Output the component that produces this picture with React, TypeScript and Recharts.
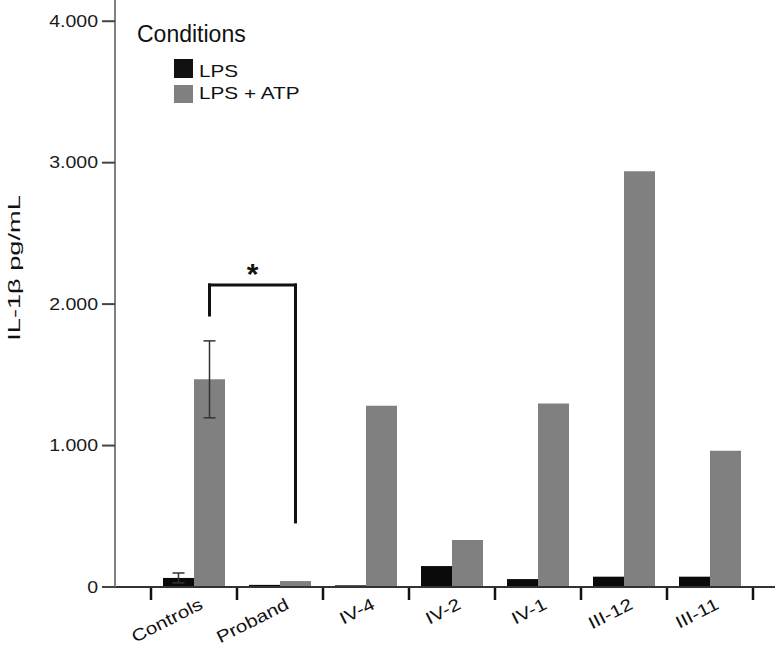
import React from "react";
import {
  BarChart,
  Bar,
  XAxis,
  YAxis,
  Legend,
  ErrorBar,
  ReferenceLine,
  ReferenceDot,
  Label,
} from "recharts";

const FONT = "'Liberation Sans', Arial, sans-serif";

const categories = ["Controls", "Proband", "IV-4", "IV-2", "IV-1", "III-12", "III-11"];
const lpsValues = [64, 15, 12, 148, 56, 73, 73];
const lpsAtpValues = [1468, 42, 1281, 332, 1298, 2940, 963];
const lpsErrors = [35, null, null, null, null, null, null];
const lpsAtpErrors = [272, null, null, null, null, null, null];
const yTicks = [0, 1000, 2000, 3000, 4000];

// significance bracket: Controls vs Proband (LPS + ATP)
const bracketFrom = "Controls";
const bracketTo = "Proband";
const bracketTop = 2135;
const bracketLeftEnd = 1923;
const bracketRightEnd = 460;
const starY = 2140;

// layout
const CHART_W = 781;
const CHART_H = 650;
const MARGIN = { top: 0, right: 6, bottom: 8, left: 0 };
const Y_AXIS_W = 115;
const X_PAD = { left: 36, right: 22 };
const BAR = 31;
const BAND =
  (CHART_W - MARGIN.left - MARGIN.right - Y_AXIS_W - X_PAD.left - X_PAD.right) /
  categories.length;

const data = categories.map((name, i) => ({
  name,
  lps: lpsValues[i],
  lpsAtp: lpsAtpValues[i],
  lpsErr: lpsErrors[i],
  lpsAtpErr: lpsAtpErrors[i],
}));

function formatThousands(v: number): string {
  return String(v).replace(/\B(?=(\d{3})+(?!\d))/g, ".");
}

function YTick({ x, y, payload }: any) {
  return (
    <g transform={`translate(${x},${y})`}>
      <text
        transform="scale(1.22,1)"
        textAnchor="end"
        dy="0.36em"
        fontSize={16}
        fill="#1a1a1a"
        fontFamily={FONT}
      >
        {formatThousands(payload.value)}
      </text>
    </g>
  );
}

// category label plus tick marks on the group boundaries
function XTick({ x, y, payload, index }: any) {
  const left = x - BAND / 2;
  const right = x + BAND / 2;
  return (
    <g>
      <line x1={left} y1={y + 1} x2={left} y2={y + 13} stroke="#111" strokeWidth={2.5} />
      {index === categories.length - 1 && (
        <line x1={right} y1={y + 1} x2={right} y2={y + 13} stroke="#111" strokeWidth={2.5} />
      )}
      <g transform={`translate(${x + 10},${y + 21}) rotate(-27)`}>
        <text
          transform="scale(1.22,1)"
          textAnchor="end"
          fontSize={17}
          fill="#111"
          fontFamily={FONT}
        >
          {payload.value}
        </text>
      </g>
    </g>
  );
}

function YLabel() {
  return (
    <text
      transform="translate(20,268) rotate(-90) scale(1.6,1)"
      textAnchor="middle"
      fontSize={17}
      fill="#111"
      fontFamily={FONT}
    >
      IL-1β pg/mL
    </text>
  );
}

// bracket legs sit on the centre of the LPS + ATP bar
function BracketLine({ x1, y1, x2, y2 }: any) {
  return (
    <line
      x1={x1 + BAR / 2}
      y1={y1}
      x2={x2 + BAR / 2}
      y2={y2}
      stroke="#111"
      strokeWidth={3}
      strokeLinecap="square"
    />
  );
}

function Star({ cx, cy }: any) {
  return (
    <text
      x={cx - BAND / 2 + BAR / 2}
      y={cy}
      textAnchor="middle"
      fontSize={30}
      fontWeight="bold"
      fill="#111"
      fontFamily={FONT}
    >
      *
    </text>
  );
}

function ConditionsLegend() {
  const text: React.CSSProperties = {
    position: "absolute",
    left: 199,
    fontSize: 17,
    lineHeight: "20px",
    whiteSpace: "nowrap",
    transform: "scaleX(1.22)",
    transformOrigin: "left",
  };
  return (
    <div style={{ position: "relative", width: 781, height: 120, fontFamily: FONT, color: "#111" }}>
      <div style={{ position: "absolute", left: 137, top: 20, fontSize: 23, lineHeight: "28px" }}>
        Conditions
      </div>
      <div style={{ position: "absolute", left: 174, top: 59, width: 19, height: 19, background: "#111" }} />
      <div style={{ ...text, top: 62 }}>LPS</div>
      <div style={{ position: "absolute", left: 174, top: 85, width: 19, height: 18, background: "#808080" }} />
      <div style={{ ...text, top: 84 }}>LPS + ATP</div>
    </div>
  );
}

export default function App() {
  return (
    <div style={{ position: "absolute", left: 0, top: 0, background: "#fff" }}>
      <BarChart
        width={CHART_W}
        height={CHART_H}
        data={data}
        margin={MARGIN}
        barSize={BAR}
        barGap={0}
      >
        <XAxis
          dataKey="name"
          padding={X_PAD}
          height={55}
          interval={0}
          axisLine={{ stroke: "#333", strokeWidth: 2 }}
          tickLine={false}
          tickSize={0}
          tickMargin={0}
          tick={<XTick />}
        />
        <YAxis
          width={Y_AXIS_W}
          domain={[0, 4150]}
          ticks={yTicks}
          tickSize={13}
          tickMargin={4}
          axisLine={{ stroke: "#808080", strokeWidth: 2 }}
          tickLine={{ stroke: "#444", strokeWidth: 2 }}
          tick={<YTick />}
        >
          <Label content={<YLabel />} />
        </YAxis>
        <Legend
          layout="vertical"
          align="center"
          verticalAlign="middle"
          wrapperStyle={{ left: 0, top: 0, width: 781, height: 120 }}
          content={<ConditionsLegend />}
        />
        <Bar dataKey="lps" name="LPS" fill="#0a0a0a" isAnimationActive={false}>
          <ErrorBar dataKey="lpsErr" width={6} strokeWidth={1.5} stroke="#333" isAnimationActive={false} />
        </Bar>
        <Bar dataKey="lpsAtp" name="LPS + ATP" fill="#808080" isAnimationActive={false}>
          <ErrorBar dataKey="lpsAtpErr" width={6} strokeWidth={1.5} stroke="#333" isAnimationActive={false} />
        </Bar>
        <ReferenceLine
          segment={[
            { x: bracketFrom, y: bracketLeftEnd },
            { x: bracketFrom, y: bracketTop },
          ]}
          shape={<BracketLine />}
        />
        <ReferenceLine
          segment={[
            { x: bracketFrom, y: bracketTop },
            { x: bracketTo, y: bracketTop },
          ]}
          shape={<BracketLine />}
        />
        <ReferenceLine
          segment={[
            { x: bracketTo, y: bracketTop },
            { x: bracketTo, y: bracketRightEnd },
          ]}
          shape={<BracketLine />}
        />
        <ReferenceDot x={bracketTo} y={starY} r={0} shape={<Star />} />
      </BarChart>
    </div>
  );
}
